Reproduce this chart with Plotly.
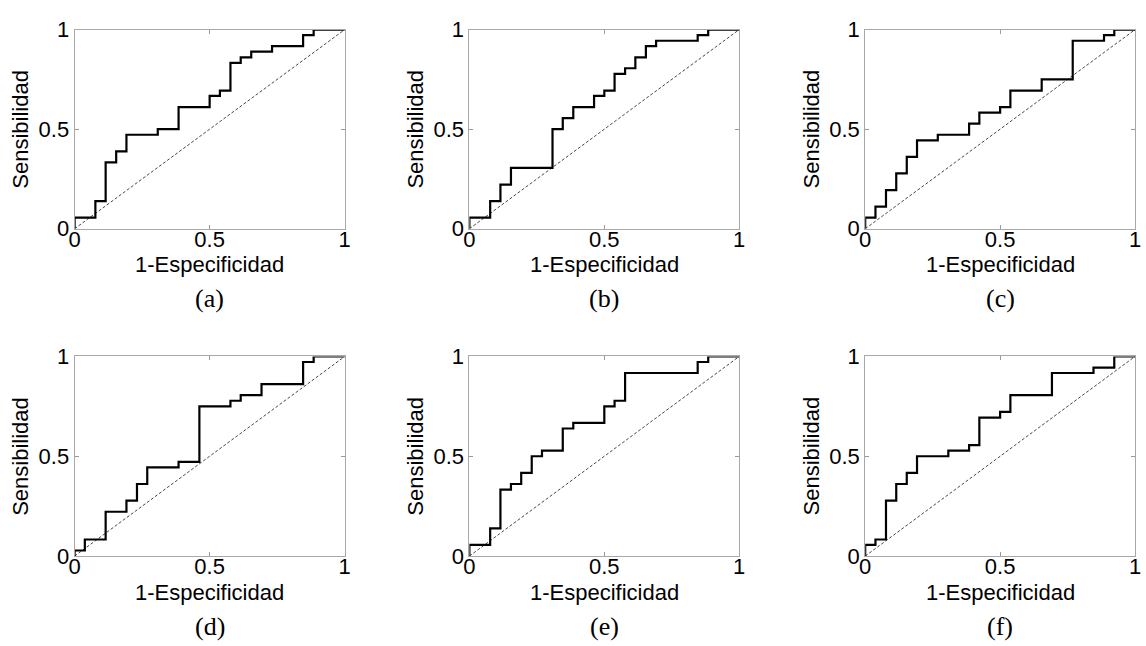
import plotly.graph_objects as go

# ROC curves (1-Especificidad, Sensibilidad)
fpr_a = [0, 0, 0.077, 0.115, 0.154, 0.192, 0.308, 0.385, 0.5, 0.538, 0.577, 0.615, 0.654, 0.731, 0.846, 0.885, 1]
tpr_a = [0, 0.056, 0.139, 0.333, 0.389, 0.472, 0.5, 0.611, 0.667, 0.694, 0.833, 0.861, 0.889, 0.917, 0.972, 1, 1]

fpr_b = [0, 0, 0.077, 0.115, 0.154, 0.308, 0.346, 0.385, 0.462, 0.5, 0.538, 0.577, 0.615, 0.654, 0.692, 0.846, 0.885, 1]
tpr_b = [0, 0.056, 0.139, 0.222, 0.306, 0.5, 0.556, 0.611, 0.667, 0.694, 0.778, 0.806, 0.861, 0.917, 0.944, 0.972, 1, 1]

fpr_c = [0, 0, 0.038, 0.077, 0.115, 0.154, 0.192, 0.269, 0.385, 0.423, 0.5, 0.538, 0.654, 0.769, 0.885, 0.923, 1]
tpr_c = [0, 0.056, 0.111, 0.194, 0.278, 0.361, 0.444, 0.472, 0.528, 0.583, 0.611, 0.694, 0.75, 0.944, 0.972, 1, 1]

fpr_d = [0, 0, 0.038, 0.115, 0.192, 0.231, 0.269, 0.385, 0.462, 0.577, 0.615, 0.692, 0.846, 0.885, 1]
tpr_d = [0, 0.028, 0.083, 0.222, 0.278, 0.361, 0.444, 0.472, 0.75, 0.778, 0.806, 0.861, 0.972, 1, 1]

fpr_e = [0, 0, 0.077, 0.115, 0.154, 0.192, 0.231, 0.269, 0.346, 0.385, 0.5, 0.538, 0.577, 0.846, 0.885, 1]
tpr_e = [0, 0.056, 0.139, 0.333, 0.361, 0.417, 0.5, 0.528, 0.639, 0.667, 0.75, 0.778, 0.917, 0.972, 1, 1]

fpr_f = [0, 0, 0.038, 0.077, 0.115, 0.154, 0.192, 0.308, 0.385, 0.423, 0.5, 0.538, 0.692, 0.846, 0.923, 1]
tpr_f = [0, 0.056, 0.083, 0.278, 0.361, 0.417, 0.5, 0.528, 0.556, 0.694, 0.722, 0.806, 0.917, 0.944, 1, 1]

chance_x = [0, 1]
chance_y = [0, 1]

panel_labels = ["(a)", "(b)", "(c)", "(d)", "(e)", "(f)"]
tick_vals = [0, 0.5, 1]
tick_text = ["0", "0.5", "1"]
x_title = "1-Especificidad"
y_title = "Sensibilidad"

curves = [(fpr_a, tpr_a), (fpr_b, tpr_b), (fpr_c, tpr_c),
          (fpr_d, tpr_d), (fpr_e, tpr_e), (fpr_f, tpr_f)]

W, H = 1146, 646
col_px = [(69.3, 342.3), (468.3, 741.0), (868.3, 1141.0)]
row_px = [(18.3, 225.5), (358.3, 566.0)]

SANS = "Liberation Sans, Arial, sans-serif"
SERIF = "Liberation Serif, Times New Roman, serif"

fig = go.Figure()
layout = {}
annotations = []
for i, (fx, ty) in enumerate(curves):
    r, c = divmod(i, 3)
    n = i + 1
    xa = "x" if n == 1 else f"x{n}"
    ya = "y" if n == 1 else f"y{n}"
    fig.add_trace(go.Scatter(x=chance_x, y=chance_y, mode="lines",
                             line=dict(color="#333333", width=0.9, dash="3px,2px"),
                             xaxis=xa, yaxis=ya, showlegend=False, hoverinfo="skip"))
    fig.add_trace(go.Scatter(x=fx, y=ty, mode="lines", line_shape="hv",
                             line=dict(color="black", width=2.2),
                             xaxis=xa, yaxis=ya, showlegend=False, cliponaxis=False))
    x0, x1 = col_px[c]
    y0, y1 = row_px[r]
    axis_common = dict(range=[0, 1], tickvals=tick_vals, ticktext=tick_text,
                       ticks="inside", ticklen=4, tickcolor="#9a9a9a", tickwidth=1,
                       showline=True, linecolor="#a8a8a8", linewidth=1, mirror="ticks",
                       showgrid=False, zeroline=False, fixedrange=True,
                       tickfont=dict(family=SANS, size=22, color="black"))
    layout["xaxis" if n == 1 else f"xaxis{n}"] = dict(
        domain=[x0 / W, x1 / W], anchor=ya, ticklabelstandoff=-9, **axis_common)
    layout["yaxis" if n == 1 else f"yaxis{n}"] = dict(
        domain=[1 - y1 / H, 1 - y0 / H], anchor=xa, **axis_common)
    xd = f"{xa} domain"
    yd = f"{ya} domain"
    annotations.append(dict(text=x_title, xref=xd, yref=yd, x=0.5, y=0,
                            xanchor="center", yanchor="middle", yshift=-36,
                            showarrow=False, font=dict(family=SANS, size=22, color="black")))
    annotations.append(dict(text=panel_labels[i], xref=xd, yref=yd, x=0.5, y=0,
                            xanchor="center", yanchor="middle", yshift=-70,
                            showarrow=False, font=dict(family=SERIF, size=26, color="black")))
    annotations.append(dict(text=y_title, xref=xd, yref=yd, x=0, y=0.5, textangle=-90,
                            xanchor="center", yanchor="middle", xshift=-54,
                            showarrow=False, font=dict(family=SANS, size=22, color="black")))

fig.update_layout(width=W, height=H, margin=dict(l=0, r=0, t=0, b=0),
                  paper_bgcolor="white", plot_bgcolor="white",
                  annotations=annotations, **layout)

fig.write_html("out.html")
